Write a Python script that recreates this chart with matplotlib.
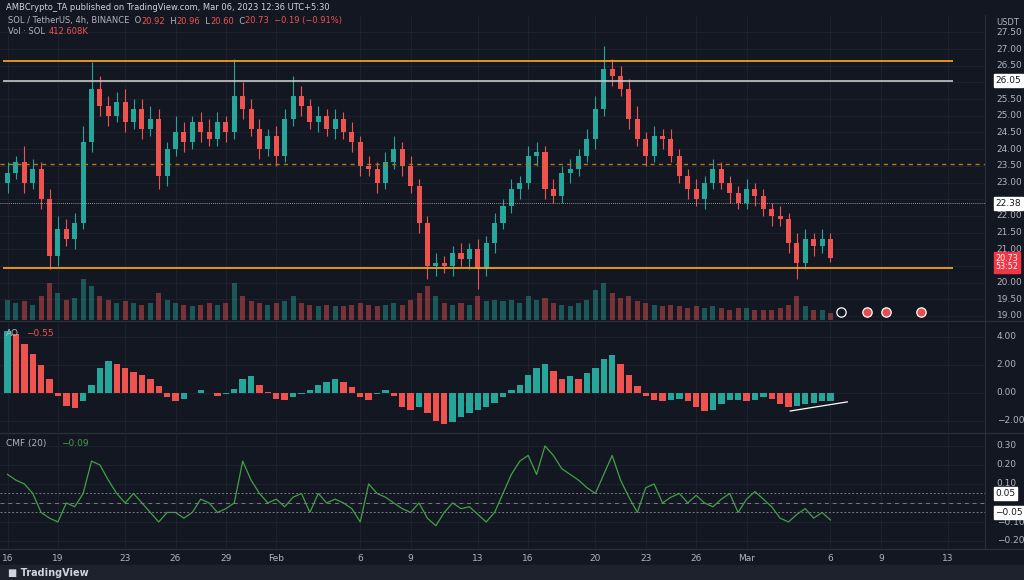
import matplotlib
matplotlib.use("Agg")
import matplotlib.pyplot as plt
import numpy as np

# ---- data (12h candles from Jan 16 to Mar 6, 2023) ----
closes = [23.3, 23.6, 23.0, 23.4, 22.5, 20.8, 21.6, 21.3, 21.8, 24.2,
          25.8, 25.3, 25.0, 25.4, 24.8, 25.2, 24.6, 24.9, 23.2, 24.0,
          24.5, 24.2, 24.8, 24.5, 24.3, 24.8, 24.5, 25.6, 25.2, 24.6,
          24.0, 24.4, 23.8, 24.9, 25.6, 25.3, 24.8, 25.0, 24.6, 24.9,
          24.5, 24.2, 23.5, 23.4, 23.0, 23.6, 24.0, 23.5, 22.9, 21.8,
          20.5, 20.6, 20.5, 20.9, 20.7, 21.0, 20.4, 21.2, 21.8, 22.3,
          22.8, 23.0, 23.8, 23.9, 22.8, 22.6, 23.3, 23.4, 23.8, 24.3,
          25.2, 26.4, 26.2, 25.8, 24.9, 24.3, 23.8, 24.4, 24.3, 23.8,
          23.2, 22.8, 22.5, 23.0, 23.4, 23.0, 22.7, 22.4, 22.8, 22.6,
          22.2, 22.0, 21.9, 21.2, 20.6, 21.3, 21.1, 21.3, 20.73]
first_open = 23.0
wick_up = [0.3, 0.2, 0.5, 0.3, 0.2, 0.3, 0.4, 0.3, 0.3, 0.5,
           0.8, 0.4, 0.3, 0.3, 0.4, 0.3, 0.3, 0.4, 0.3, 0.2,
           0.5, 0.3, 0.2, 0.3, 0.4, 0.3, 0.2, 1.1, 0.4, 0.3,
           0.3, 0.2, 0.3, 0.3, 0.6, 0.3, 0.2, 0.3, 0.2, 0.3,
           0.2, 0.3, 0.2, 0.3, 0.2, 0.3, 0.4, 0.2, 0.3, 0.2,
           0.2, 0.3, 0.2, 0.2, 0.3, 0.2, 0.3, 0.2, 0.3, 0.2,
           0.3, 0.2, 0.3, 0.3, 0.2, 0.3, 0.2, 0.3, 0.2, 0.3,
           0.4, 0.7, 0.3, 0.3, 0.3, 0.4, 0.2, 0.3, 0.2, 0.3,
           0.2, 0.2, 0.3, 0.2, 0.3, 0.2, 0.2, 0.2, 0.3, 0.2,
           0.2, 0.2, 0.3, 0.2, 0.3, 0.3, 0.2, 0.3, 0.2]
wick_dn = [0.3, 0.2, 0.3, 0.2, 0.3, 0.4, 0.3, 0.2, 0.3, 0.2,
           0.3, 0.3, 0.3, 0.2, 0.3, 0.2, 0.3, 0.2, 0.4, 0.3,
           0.2, 0.3, 0.2, 0.3, 0.2, 0.2, 0.3, 0.2, 0.3, 0.2,
           0.3, 0.2, 0.3, 0.2, 0.2, 0.3, 0.2, 0.3, 0.2, 0.3,
           0.2, 0.3, 0.3, 0.2, 0.3, 0.2, 0.2, 0.3, 0.2, 0.3,
           0.4, 0.3, 0.2, 0.3, 0.2, 0.3, 0.6, 0.2, 0.3, 0.2,
           0.2, 0.3, 0.2, 0.3, 0.3, 0.2, 0.2, 0.3, 0.2, 0.2,
           0.3, 0.2, 0.3, 0.2, 0.3, 0.2, 0.3, 0.2, 0.3, 0.2,
           0.2, 0.3, 0.2, 0.3, 0.2, 0.2, 0.3, 0.2, 0.2, 0.3,
           0.2, 0.3, 0.2, 0.3, 0.5, 0.2, 0.3, 0.2, 0.1]
volumes = [600, 500, 550, 450, 700, 1100, 800, 600, 650, 1200,
           1000, 700, 600, 500, 550, 500, 450, 500, 800, 600,
           500, 450, 400, 450, 500, 450, 500, 1100, 700, 550,
           500, 450, 500, 550, 700, 500, 450, 400, 450, 400,
           400, 450, 500, 450, 400, 450, 500, 450, 600, 800,
           1000, 700, 500, 450, 500, 450, 700, 550, 600, 550,
           600, 500, 700, 600, 650, 500, 450, 400, 500, 600,
           900, 1100, 800, 650, 700, 550, 500, 450, 400, 450,
           400, 350, 400, 350, 400, 350, 300, 350, 350, 300,
           300, 300, 350, 450, 700, 400, 300, 300, 200]
ao = [4.4, 4.2, 3.5, 2.8, 2.0, 1.0, -0.2, -0.9, -1.1, -0.6,
      0.6, 1.8, 2.3, 2.1, 1.8, 1.5, 1.3, 1.0, 0.5, -0.3,
      -0.6, -0.4, 0.0, 0.2, 0.0, -0.2, -0.1, 0.3, 1.0, 1.2,
      0.6, 0.1, -0.4, -0.5, -0.3, -0.1, 0.2, 0.6, 0.8, 1.0,
      0.8, 0.4, -0.3, -0.5, -0.1, 0.2, -0.2, -1.0, -1.2, -1.0,
      -1.4, -2.0, -2.2, -2.1, -1.7, -1.4, -1.2, -1.0, -0.7, -0.3,
      0.2, 0.6, 1.3, 1.8, 2.1, 1.6, 1.0, 1.2, 1.0, 1.4,
      1.8, 2.4, 2.7, 2.1, 1.3, 0.5, -0.2, -0.5, -0.6, -0.5,
      -0.4, -0.6, -1.0, -1.3, -1.2, -0.8, -0.5, -0.5, -0.6, -0.5,
      -0.3, -0.4, -0.8, -1.0, -0.9, -0.8, -0.7, -0.6, -0.55]
cmf = [0.15, 0.12, 0.10, 0.05, -0.05, -0.08, -0.10, 0.00, -0.02, 0.05,
       0.22, 0.20, 0.12, 0.05, 0.00, 0.05, 0.00, -0.05, -0.10, -0.05,
       -0.05, -0.08, -0.05, 0.02, 0.00, -0.05, -0.03, 0.00, 0.22, 0.12,
       0.05, 0.00, 0.02, -0.02, 0.03, 0.05, -0.05, 0.05, 0.00, 0.02,
       0.00, -0.03, -0.10, 0.10, 0.05, 0.03, 0.00, -0.03, -0.05, 0.00,
       -0.08, -0.12, -0.05, 0.00, -0.03, -0.02, -0.06, -0.10, -0.05, 0.05,
       0.15, 0.22, 0.25, 0.15, 0.30, 0.25, 0.18, 0.15, 0.12, 0.08,
       0.05, 0.15, 0.25, 0.12, 0.03, -0.05, 0.08, 0.10, 0.00, 0.03,
       0.05, 0.00, 0.04, 0.00, -0.02, 0.02, 0.05, -0.05, 0.02, 0.06,
       0.02, -0.02, -0.08, -0.10, -0.06, -0.03, -0.08, -0.05, -0.09]
date_ticks = [0, 3, 7, 10, 13, 16, 21, 24, 28, 31, 35, 38, 41, 44, 49, 52, 56]
date_labels = ["16", "19", "23", "26", "29", "Feb", "6", "9", "13", "16", "20",
               "23", "26", "Mar", "6", "9", "13"]
price_ticks = [19.0, 19.5, 20.0, 20.5, 21.0, 21.5, 22.0, 22.5, 23.0, 23.5, 24.0,
               24.5, 25.0, 25.5, 26.0, 26.5, 27.0, 27.5]
price_hidden = [20.5, 22.5, 26.0]   # covered by the price tags
ao_ticks = [-2, 0, 2, 4]
cmf_ticks = [-0.2, -0.1, 0.0, 0.1, 0.2, 0.3]
levels_orange = [26.65, 20.45]
level_grey = 26.05
level_mid = 23.55
level_dotted = 22.38
icon_t = [49.6, 51.2, 52.3, 54.4]

# ---- style ----
BG = "#131722"; GRID = "#1f2330"; TXT = "#b2b5be"
UP = "#26a69a"; DN = "#ef5350"; ORANGE = "#f0a020"
W, H = 1024, 580
fig = plt.figure(figsize=(W/100, H/100), dpi=100, facecolor=BG)

def box(x0, y0, x1, y1):
    return [x0/W, 1-y1/H, (x1-x0)/W, (y1-y0)/H]

def fmt(v):
    return f"{v:.2f}" if v >= 0 else f"\u2212{abs(v):.2f}"

t = np.arange(len(closes)) * 0.5
opens = [first_open] + closes[:-1]
xl = (-0.45, 58.2)

ax = fig.add_axes(box(0, 15, 985, 320), facecolor=BG)
ax2 = fig.add_axes(box(0, 321, 985, 432), facecolor=BG)
ax3 = fig.add_axes(box(0, 433, 985, 548), facecolor=BG)
for a, ticks in ((ax, price_ticks), (ax2, ao_ticks), (ax3, cmf_ticks)):
    a.set_xlim(*xl)
    for s in a.spines.values():
        s.set_visible(False)
    a.set_yticks(ticks)
    a.tick_params(axis="both", length=0, labelleft=False, labelbottom=False)
    a.set_xticks(date_ticks)
    a.grid(True, color=GRID, lw=0.6)
    a.set_axisbelow(True)

def ylabels(a, ticks):
    for v in ticks:
        a.text(1.012, v, fmt(v), transform=a.get_yaxis_transform(), fontsize=6.5,
               color=TXT, va="center", ha="left")

for y in (320.5, 432.5, 548.5):
    fig.add_artist(plt.Line2D([0, 1], [1-y/H]*2, color="#2a2e39", lw=1))
fig.add_artist(plt.Line2D([985/W]*2, [1-15/H, 1-548/H], color="#2a2e39", lw=0.8))

# main price pane
ax.set_ylim(18.88, 28.02)
ylabels(ax, [v for v in price_ticks if v not in price_hidden])
axv = ax.twinx()
axv.set_ylim(0, 9000)
axv.set_xlim(*xl)
axv.set_yticks([])
for s in axv.spines.values():
    s.set_visible(False)
for i in range(len(closes)):
    o, c = opens[i], closes[i]
    col = UP if c >= o else DN
    hi = max(o, c) + wick_up[i]; lo = min(o, c) - wick_dn[i]
    ax.vlines(t[i], lo, hi, color=col, lw=0.8, zorder=3)
    ax.bar(t[i], max(abs(c-o), 0.03), bottom=min(o, c), width=0.3, color=col, zorder=4)
    axv.bar(t[i], volumes[i], width=0.3, color=col, alpha=0.45)

for lv in levels_orange:
    ax.hlines(lv, -0.3, 56.3, color=ORANGE, lw=1.3, zorder=5)
ax.hlines(level_grey, -0.3, 56.3, color="#c8c8c8", lw=1.2, zorder=5)
ax.axhline(level_mid, color="#b07818", lw=1, ls=(0, (3, 3)), zorder=5)
ax.axhline(level_dotted, color="#c0c0c0", lw=0.6, ls=(0, (1, 1.5)), zorder=5)

def tag(a, y, txt, fc, tc, fs=6.5, ls=1.2):
    a.text(1.0105, y, txt, transform=a.get_yaxis_transform(), fontsize=fs, color=tc,
           va="center", ha="left", zorder=10, linespacing=ls,
           bbox=dict(boxstyle="square,pad=0.2", fc=fc, ec=fc))
tag(ax, level_grey, "26.05", "white", "#131722")
tag(ax, level_dotted, "22.38", "white", "#131722")
tag(ax, closes[-1] - 0.13, "20.73\n53:52", "#f23645", "white", fs=5.8, ls=0.95)
ax.text(1.011, 1-3/305, "USDT", transform=ax.transAxes, fontsize=6, color=TXT, va="top")

for k, xi in enumerate(icon_t):
    ax.scatter(xi, 19.12, s=45, color="#131722" if k == 0 else "#e05050",
               edgecolor="white", lw=0.9, zorder=6)

# AO pane
ax2.set_ylim(-2.79, 5.14)
ylabels(ax2, ao_ticks)
ao_cols = [UP if i == 0 or ao[i] >= ao[i-1] else DN for i in range(len(ao))]
ax2.bar(t, ao, width=0.38, color=ao_cols)
ax2.plot([46.6, 50.0], [-1.29, -0.64], color="white", lw=0.9)
ax2.text(0.006, 0.93, "AO", transform=ax2.transAxes, fontsize=6.5, color=TXT, va="top")
ax2.text(0.026, 0.93, "\u22120.55", transform=ax2.transAxes, fontsize=6.5, color=DN, va="top")

# CMF pane
ax3.set_ylim(-0.237, 0.368)
ylabels(ax3, [0.3, 0.2, 0.1, -0.2])
ax3.plot(t, cmf, color="#43a047", lw=0.9)
ax3.axhline(0.05, color="#787b86", lw=0.7, ls=(0, (2, 2)))
ax3.axhline(0.0, color="#787b86", lw=0.7, ls=(0, (4, 4)))
ax3.axhline(-0.05, color="#787b86", lw=0.7, ls=(0, (2, 2)))
tag(ax3, 0.05, "0.05", "white", "#131722")
tag(ax3, -0.05, "\u22120.05", "white", "#131722")
ax3.text(1.012, -0.102, "\u22120.10", transform=ax3.get_yaxis_transform(), fontsize=6.5,
         color=TXT, va="center")
ax3.text(0.006, 0.95, "CMF (20)", transform=ax3.transAxes, fontsize=6.5, color=TXT, va="top")
ax3.text(0.062, 0.95, "\u22120.09", transform=ax3.transAxes, fontsize=6.5, color="#43a047", va="top")

for d, lab in zip(date_ticks, date_labels):
    ax3.text(d, -0.292, lab, fontsize=6.5, color=TXT, ha="center", va="center", clip_on=False)

fig.text(6/W, 1-7/H, "AMBCrypto_TA published on TradingView.com, Mar 06, 2023 12:36 UTC+5:30",
         fontsize=6, color="#d1d4dc", va="center")
x = 8/W
hdr = [("SOL / TetherUS, 4h, BINANCE  O", TXT), ("20.92", DN), ("  H", TXT), ("20.96", DN),
       ("  L", TXT), ("20.60", DN), ("  C", TXT), ("20.73  \u22120.19 (\u22120.91%)", DN)]
r = fig.canvas.get_renderer()
for s, c in hdr:
    tt = fig.text(x, 1-21/H, s, fontsize=6, color=c, va="center")
    x += tt.get_window_extent(r).width / W
vt = fig.text(8/W, 1-31/H, "Vol \u00b7 SOL", fontsize=6, color=TXT, va="center")
vx = 8/W + vt.get_window_extent(r).width / W + 4/W
fig.text(vx, 1-31/H, "412.608K", fontsize=6, color=DN, va="center")

fig.add_artist(plt.Rectangle((0, 0), 1, 15/H, color="#1e222d", transform=fig.transFigure))
fig.text(8/W, 7.5/H, "\u25a0 TradingView", fontsize=7, color="#d1d4dc", va="center", weight="bold")

fig.savefig("out.png", dpi=100, facecolor=BG)
